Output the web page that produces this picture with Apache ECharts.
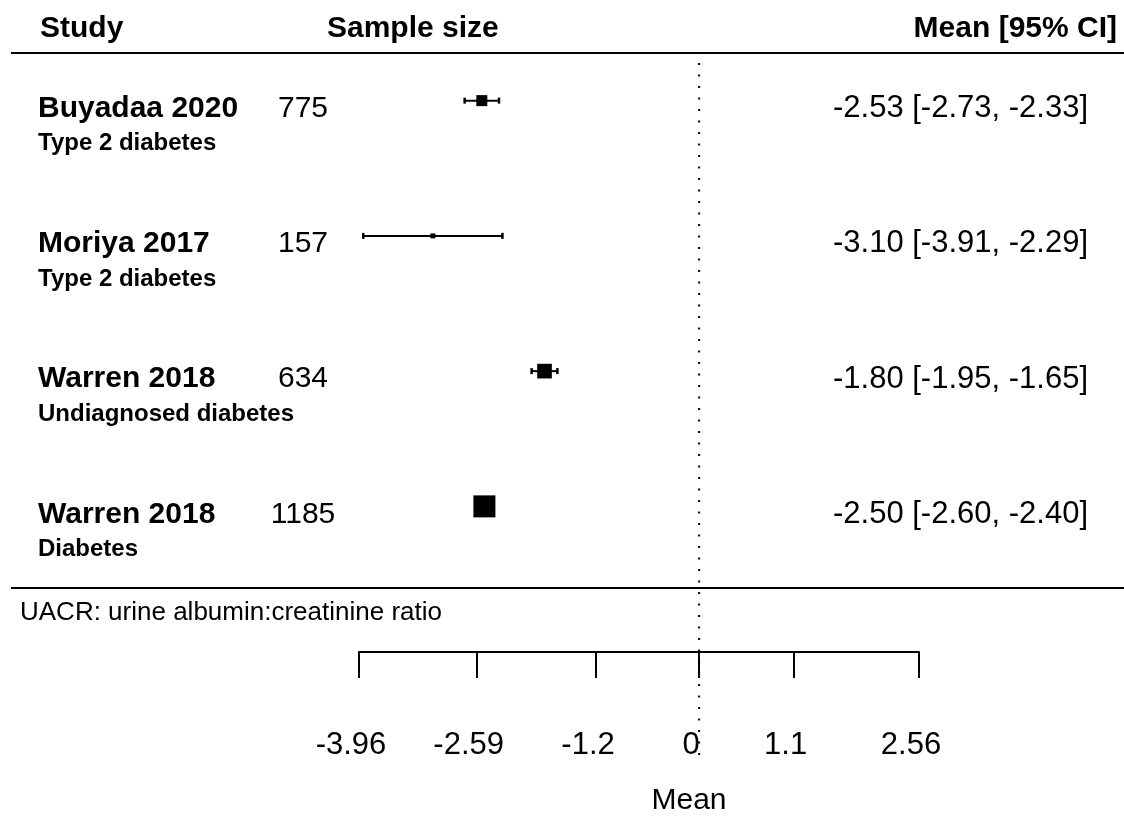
<!DOCTYPE html>
<html>
<head>
<meta charset="utf-8">
<title>UACR forest plot</title>
<script src="https://cdn.jsdelivr.net/npm/echarts@6/dist/echarts.min.js"></script>
<style>
  html, body { margin: 0; padding: 0; background: #ffffff; }
  #chart { width: 1124px; height: 816px; }
</style>
</head>
<body>
<div id="chart"></div>
<script>
// Study rows, top to bottom
const studies = ['Buyadaa 2020', 'Moriya 2017', 'Warren 2018', 'Warren 2018'];
const groups = ['Type 2 diabetes', 'Type 2 diabetes', 'Undiagnosed diabetes', 'Diabetes'];
const sampleSizes = [775, 157, 634, 1185];
const means = [-2.53, -3.10, -1.80, -2.50];
const lowerCI = [-2.73, -3.91, -1.95, -2.60];
const upperCI = [-2.33, -2.29, -1.65, -2.40];
// Mean axis ticks
const tickValues = [-3.96, -2.59, -1.2, 0, 1.1, 2.56];

const FONT = "'Liberation Sans', Arial, Helvetica, sans-serif";
const INK = '#000000';

const chart = echarts.init(document.getElementById('chart'), null, { renderer: 'canvas' });

// one item per study: [mean, row, lower, upper, index]
const rows = means.map((m, i) => [m, i + 1, lowerCI[i], upperCI[i], i]);

// box size scales with precision (inverse CI width)
function boxSize(lo, hi) {
  return Math.max(5, 4.4 / (hi - lo));
}

function renderStudy(params, api) {
  const i = api.value(4);
  const c = api.coord([api.value(0), api.value(1)]);
  const cLo = api.coord([api.value(2), api.value(1)]);
  const cHi = api.coord([api.value(3), api.value(1)]);
  const y = c[1];
  const s = boxSize(api.value(2), api.value(3));
  const ciText = means[i].toFixed(2) + ' [' + lowerCI[i].toFixed(2) + ', ' + upperCI[i].toFixed(2) + ']';
  const lineStyle = { stroke: INK, lineWidth: 2 };
  const capStyle = { stroke: INK, lineWidth: 2.5 };
  return {
    type: 'group',
    children: [
      { type: 'line', shape: { x1: cLo[0], y1: y, x2: cHi[0], y2: y }, style: lineStyle },
      { type: 'line', shape: { x1: cLo[0], y1: y - 3, x2: cLo[0], y2: y + 3 }, style: capStyle },
      { type: 'line', shape: { x1: cHi[0], y1: y - 3, x2: cHi[0], y2: y + 3 }, style: capStyle },
      { type: 'rect', shape: { x: c[0] - s / 2, y: y - s / 2, width: s, height: s }, style: { fill: INK } },
      { type: 'text', x: 38, y: y + 8, style: { text: studies[i], fill: INK, font: 'bold 30px ' + FONT, textAlign: 'left', textVerticalAlign: 'middle' } },
      { type: 'text', x: 38, y: y + 43, style: { text: groups[i], fill: INK, font: 'bold 24px ' + FONT, textAlign: 'left', textVerticalAlign: 'middle' } },
      { type: 'text', x: 303, y: y + 8, style: { text: String(sampleSizes[i]), fill: INK, font: '30px ' + FONT, textAlign: 'center', textVerticalAlign: 'middle' } },
      { type: 'text', x: 1088, y: y + 8, style: { text: ciText, fill: INK, font: '31px ' + FONT, textAlign: 'right', textVerticalAlign: 'middle' } }
    ]
  };
}

// dotted reference line at zero
function renderZero(params, api) {
  const x = api.coord([api.value(0), 1])[0];
  return {
    type: 'line',
    shape: { x1: x, y1: 63, x2: x, y2: 756 },
    style: { stroke: INK, lineWidth: 2, lineDash: [2, 9.5] }
  };
}

const option = {
  animation: false,
  backgroundColor: '#ffffff',
  grid: { left: 359, right: 205, top: 33, height: 541 },
  xAxis: {
    type: 'value',
    min: -3.96,
    max: 2.56,
    offset: 78,
    splitLine: { show: false },
    axisLine: { show: true, lineStyle: { color: INK, width: 2 } },
    axisTick: { show: true, length: 26, lineStyle: { color: INK, width: 2 }, customValues: tickValues },
    axisLabel: {
      customValues: tickValues,
      margin: 78,
      color: INK,
      fontFamily: FONT,
      fontSize: 31,
      padding: [0, 16, 0, 0],
      formatter: v => String(v)
    }
  },
  yAxis: {
    type: 'value',
    min: 0.5,
    max: 4.5,
    inverse: true,
    show: false
  },
  graphic: [
    { type: 'text', left: 40, top: 14, style: { text: 'Study', fill: INK, font: 'bold 30px ' + FONT } },
    { type: 'text', left: 327, top: 14, style: { text: 'Sample size', fill: INK, font: 'bold 30px ' + FONT } },
    { type: 'text', right: 7, top: 14, style: { text: 'Mean [95% CI]', fill: INK, font: 'bold 30px ' + FONT } },
    { type: 'line', shape: { x1: 11, y1: 53, x2: 1124, y2: 53 }, style: { stroke: INK, lineWidth: 2 } },
    { type: 'line', shape: { x1: 11, y1: 588, x2: 1124, y2: 588 }, style: { stroke: INK, lineWidth: 2 } },
    { type: 'text', left: 20, top: 600, style: { text: 'UACR: urine albumin:creatinine ratio', fill: INK, font: '26px ' + FONT } },
    { type: 'text', x: 689, y: 801, style: { text: 'Mean', fill: INK, font: '30px ' + FONT, textAlign: 'center', textVerticalAlign: 'middle' } }
  ],
  series: [
    {
      type: 'custom',
      name: 'Studies',
      renderItem: renderStudy,
      data: rows,
      encode: { x: 0, y: 1 },
      clip: false,
      z: 3
    },
    {
      type: 'custom',
      name: 'Zero',
      renderItem: renderZero,
      data: [[0, 1]],
      clip: false,
      z: 10
    }
  ]
};

chart.setOption(option);
</script>
</body>
</html>
